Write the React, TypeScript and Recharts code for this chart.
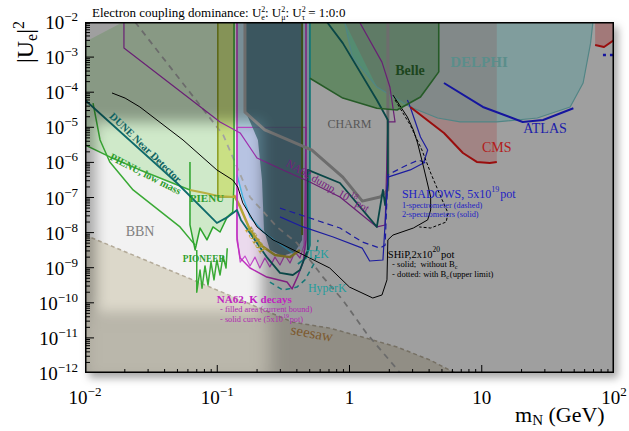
import React from 'react';
import { ComposedChart, Scatter, XAxis, YAxis } from 'recharts';

type Pt = [number, number];

const F = '"Liberation Serif","Times New Roman",serif';

// ---------- axes ----------
const xMajorTicks = [0.01, 0.1, 1, 10, 100];
const xMajorLabels: [string, string][] = [['10', '\u22122'], ['10', '\u22121'], ['1', ''], ['10', ''], ['10', '2']];
const yMajorTicks = [1e-12, 1e-11, 1e-10, 1e-9, 1e-8, 1e-7, 1e-6, 1e-5, 1e-4, 1e-3, 1e-2];
const yMajorLabels = ['\u221212', '\u221211', '\u221210', '\u22129', '\u22128', '\u22127', '\u22126', '\u22125', '\u22124', '\u22123', '\u22122'];
const minorSteps = [2, 3, 4, 5, 6, 7, 8, 9];

const plotCorners: Pt[] = [[0.01, 1e-2], [100, 1e-2], [100, 1e-12], [0.01, 1e-12]];
const lightZone: Pt[] = [[0.0119, 1.42e-5], [0.218, 4.5e-11]];
const dimZone: Pt[] = [[0.0095, 5.5e-11], [0.25, 5e-13]];

// ---------- regions / curves (m_N [GeV], |U_e|^2) ----------
const seesawBound: Pt[] = [[0.01, 8.5e-9], [0.0741, 3.7e-10], [0.373, 2.8e-11], [0.709, 1.9e-11], [1.25, 1.06e-11], [2.29, 5.5e-12], [4.11, 2.3e-12], [6.28, 1e-12]];
const greyDashed: Pt[] = [[0.0239, 1e-2], [0.111, 6.0e-6], [0.177, 1.03e-7], [0.283, 1.45e-8], [0.40, 5.1e-9], [0.63, 5.4e-10], [0.89, 1.2e-10], [1.34, 1.38e-11], [2.42, 1e-12]];

const pienuRegion: Pt[] = [[0.01, 2.7e-3], [0.0194, 1e-2], [0.134, 1e-2], [0.134, 2.59e-7], [0.131, 3.86e-8], [0.119, 2.8e-8], [0.105, 1.04e-8], [0.0929, 1.45e-8], [0.0836, 6.2e-9], [0.0741, 1.35e-8], [0.068, 3.2e-9], [0.0622, 1.65e-8], [0.0622, 1.64e-7], [0.0439, 2.77e-7], [0.026, 6.1e-7], [0.0154, 1.43e-6], [0.01, 3.13e-6]];
const pienuLowMass: Pt[] = [[0.01, 3.13e-6], [0.0154, 1.43e-6], [0.026, 6.1e-7], [0.0439, 2.77e-7], [0.0622, 1.64e-7]];
const pienuEdge: Pt[] = [[0.0622, 1.03e-6], [0.0622, 1.65e-8], [0.068, 3.2e-9], [0.0741, 1.35e-8], [0.0836, 6.2e-9], [0.0929, 1.45e-8], [0.105, 1.04e-8], [0.119, 2.8e-8], [0.131, 3.86e-8], [0.134, 2.59e-7], [0.134, 1e-2]];
const pienuSteep: Pt[] = [[0.0115, 4.9e-5], [0.013, 4.35e-6], [0.0154, 1.03e-6], [0.0231, 1.64e-7], [0.0523, 1.45e-8], [0.068, 4.4e-9]];
const pioneer: Pt[] = [[0.070, 3.2e-9], [0.070, 2.0e-10], [0.0741, 8.6e-10], [0.0767, 2.6e-10], [0.0808, 1.12e-9], [0.0851, 3.2e-10], [0.0897, 1.45e-9], [0.0945, 4.5e-10], [0.0993, 1.66e-9], [0.105, 6.2e-10], [0.1105, 2.15e-9], [0.1165, 9.8e-10], [0.119, 3.6e-9]];
const pienuOlive: Pt[] = [[0.0622, 1.64e-7], [0.0808, 1.34e-7], [0.101, 1.1e-7], [0.134, 1.03e-7]];

const oliveBand: Pt[] = [[0.101, 1e-2], [0.134, 1e-2], [0.134, 1.03e-7], [0.101, 1.03e-7]];
const oliveBandEdge: Pt[] = [[0.101, 1e-2], [0.101, 1.03e-7], [0.134, 1.03e-7]];

const lightBlueRegion: Pt[] = [[0.141, 1e-2], [0.502, 1e-2], [0.502, 3.2e-9], [0.469, 3.2e-9], [0.373, 2.6e-9], [0.283, 5.4e-9], [0.222, 1.04e-8], [0.177, 2.8e-8], [0.156, 1.03e-7], [0.141, 4.4e-7]];
const cyanCurve: Pt[] = [[0.141, 4.4e-7], [0.156, 1.03e-7], [0.177, 2.8e-8], [0.222, 1.04e-8], [0.283, 5.4e-9], [0.373, 2.6e-9]];
const slateRegion: Pt[] = [[0.162, 1e-2], [0.438, 1e-2], [0.438, 6.2e-9], [0.387, 2.8e-9], [0.309, 2.15e-9], [0.25, 3.2e-9], [0.2257, 1.19e-8], [0.218, 3.15e-7], [0.203, 4.35e-6], [0.162, 3.1e-5]];
const na62KBound: Pt[] = [[0.141, 1e-5], [0.141, 8.5e-9], [0.149, 1.45e-9], [0.162, 2.15e-9], [0.177, 1.12e-9], [0.193, 2.0e-9], [0.21, 9.8e-10], [0.229, 1.89e-9], [0.25, 1.05e-9], [0.273, 2.0e-9], [0.298, 1.19e-9], [0.325, 2.3e-9], [0.355, 1.36e-9], [0.387, 2.8e-9], [0.422, 1.89e-9], [0.454, 4.4e-9], [0.469, 1e-5]];
const na62KFuture: Pt[] = [[0.141, 1e-2], [0.141, 6.2e-9], [0.149, 1.89e-9], [0.177, 9.8e-10], [0.237, 5.4e-10], [0.337, 3.9e-10], [0.368, 2.5e-10], [0.407, 5.8e-10], [0.446, 1.45e-9], [0.469, 6.2e-9], [0.469, 1e-2]];
const t2k: Pt[] = [[0.502, 1e-2], [0.502, 4.4e-9], [0.469, 1.89e-9], [0.407, 1.28e-9]];
const hyperK: Pt[] = [[0.25, 3.9e-10], [0.314, 2.3e-10], [0.40, 2.8e-10], [0.461, 4.5e-10], [0.548, 1.45e-9], [0.578, 6.2e-9]];
const ps191: Pt[] = [[0.134, 1.18e-7], [0.149, 5.4e-8], [0.177, 1.19e-8], [0.218, 4.15e-9], [0.273, 2.3e-9], [0.355, 2.0e-9], [0.422, 3.2e-9]];
const darkOliveEdge: Pt[] = [[0.438, 1e-2], [0.438, 8.5e-9]];

const charm: Pt[] = [[0.162, 1e-2], [0.162, 2.7e-5], [0.229, 8.4e-6], [0.52, 2.25e-6], [0.89, 3.8e-7], [1.25, 7.9e-8], [1.70, 1.03e-7], [1.95, 1.64e-7], [1.95, 1e-2]];
const na62Dump: Pt[] = [[0.0197, 1e-2], [0.0197, 1.82e-3], [0.105, 1.42e-5], [0.149, 6.9e-6], [0.2, 1.33e-6], [0.314, 6.1e-7], [0.502, 2.77e-7], [0.847, 1.03e-7], [1.61, 1.45e-8], [1.86, 1.65e-8], [1.95, 1.42e-5], [2.21, 1.42e-5], [2.02, 1.41e-4], [1.76, 7.2e-4], [1.19, 1e-2]];
const duneND: Pt[] = [[0.01, 6.0e-5], [0.0496, 2.59e-7], [0.0993, 1.88e-8], [0.1206, 2.8e-8], [0.141, 4.4e-8], [0.151, 2.3e-8], [0.237, 2.0e-9], [0.298, 7.1e-10], [0.373, 6.2e-10], [0.422, 8.6e-10], [0.484, 3.2e-9], [0.484, 6.1e-7], [0.847, 2.59e-7], [1.61, 1.45e-8], [1.79, 1.64e-7], [1.86, 6.1e-8], [1.95, 2.27e-7], [1.95, 1.61e-5], [1.61, 6.0e-5], [0.89, 2.5e-3], [0.675, 1e-2]];
const shipSolid: Pt[] = [[0.016, 9.5e-5], [0.0201, 6.8e-5], [0.026, 3.8e-5], [0.0551, 4.35e-6], [0.0993, 6.1e-7], [0.131, 3.15e-7], [0.143, 1.99e-7], [0.156, 7.0e-8], [0.2, 1.45e-8], [0.264, 6.2e-9], [0.422, 2.6e-9], [0.709, 9.8e-10], [1.0, 2.8e-10], [1.5, 1.37e-10], [1.76, 1.67e-10], [1.92, 4.5e-10], [1.95, 6.2e-9], [2.13, 8.5e-9], [3.04, 1.35e-8], [3.90, 2.3e-8], [4.11, 4.4e-8], [4.11, 1.03e-7], [3.63, 7.4e-7], [3.27, 3.57e-6], [3.04, 8.4e-6], [2.74, 1.96e-5], [2.13, 8.3e-5]];
const shipDotted: Pt[] = [[2.21, 6.0e-5], [2.88, 1.16e-5], [3.53, 2.25e-6], [4.11, 5.0e-7], [4.91, 1.03e-7], [5.56, 3.6e-8], [5.38, 2.0e-8], [4.11, 1.35e-8], [3.37, 1.45e-8]];
const shadowsSolid: Pt[] = [[0.298, 2.8e-8], [0.446, 1.45e-8], [0.753, 7.5e-9], [1.25, 3.6e-9], [1.42, 1.55e-9], [1.79, 1.66e-9], [1.95, 3.8e-7], [2.88, 6.1e-7], [3.63, 9.6e-7], [3.90, 2.25e-6], [3.44, 5.3e-6], [2.88, 3.8e-5], [2.74, 6.0e-5]];
const shadowsDashed: Pt[] = [[0.298, 5.0e-8], [0.502, 2.6e-8], [0.847, 1.35e-8], [1.25, 5.4e-9], [1.70, 3.6e-9], [1.86, 4.4e-9], [1.95, 4.4e-7], [2.63, 7.9e-7], [3.33, 1.17e-6], [3.76, 9.6e-7]];

const belle: Pt[] = [[0.502, 1e-2], [0.502, 2.5e-4], [0.89, 6.8e-5], [1.61, 3.5e-5], [2.29, 3.1e-5], [3.44, 7.3e-5], [4.11, 1.83e-4], [4.73, 3.8e-4], [4.73, 1e-2]];
const delphi: Pt[] = [[0.92, 1e-2], [1.05, 1.0e-3], [1.61, 1.41e-4], [2.88, 3.8e-5], [4.64, 1.84e-5], [6.85, 1.42e-5], [13.0, 1.42e-5], [26.3, 1.84e-5], [46.6, 3.8e-5], [58.4, 1.83e-4], [66.5, 2.5e-3], [69.3, 1e-2]];
const cmsRegion: Pt[] = [[0.92, 1e-2], [1.61, 1.41e-4], [2.88, 3.8e-5], [5.18, 6.9e-6], [7.21, 1.85e-6], [9.17, 1.03e-6], [11.5, 9.6e-7], [13.0, 1.03e-6], [13.0, 1e-2]];
const cmsEdge: Pt[] = [[2.88, 3.8e-5], [5.18, 6.9e-6], [7.21, 1.85e-6], [9.17, 1.03e-6], [11.5, 9.6e-7], [13.0, 1.03e-6]];
const cmsHigh: Pt[] = [[72, 1e-2], [72, 2.2e-3], [84, 1.94e-3], [100, 3.07e-3], [100, 1e-2]];
const cmsHighEdge: Pt[] = [[72, 2.2e-3], [84, 1.94e-3], [100, 3.07e-3]];
const atlas: Pt[] = [[5.18, 1.83e-4], [10.2, 3.8e-5], [20.4, 1.42e-5], [29.1, 1.61e-5], [49.3, 3.5e-5]];
const atlasHigh: Pt[] = [[82.5, 1.15e-3], [100, 1.15e-3]];

// label anchors (data coordinates)
const labelAnchors: { id: string; x: number; y: number }[] = [
  { id: 'dune', x: 0.0275, y: 2.25e-6 },
  { id: 'pienuLow', x: 0.0279, y: 3.8e-7 },
  { id: 'pienu', x: 0.0836, y: 7.4e-8 },
  { id: 'pioneer', x: 0.0794, y: 1.45e-9 },
  { id: 'bbn', x: 0.0261, y: 8.0e-9 },
  { id: 'na62dump', x: 0.664, y: 1.75e-7 },
  { id: 'charm', x: 1.0, y: 9.5e-6 },
  { id: 'belle', x: 2.87, y: 3.1e-4 },
  { id: 'delphi', x: 9.53, y: 5.2e-4 },
  { id: 'atlas', x: 30.1, y: 6.9e-6 },
  { id: 'cms', x: 13.0, y: 1.98e-6 },
  { id: 'shadows', x: 2.49, y: 9.7e-8 },
  { id: 'spec1', x: 2.49, y: 5.0e-8 },
  { id: 'spec2', x: 2.49, y: 2.85e-8 },
  { id: 'ship', x: 1.95, y: 1.95e-9 },
  { id: 'shipSolid', x: 2.10, y: 1.05e-9 },
  { id: 'shipDotted', x: 2.10, y: 5.5e-10 },
  { id: 't2k', x: 0.477, y: 1.89e-9 },
  { id: 'hyperk', x: 0.485, y: 2.0e-10 },
  { id: 'na62k', x: 0.0993, y: 9.9e-11 },
  { id: 'na62kFilled', x: 0.105, y: 5.3e-11 },
  { id: 'na62kSolid', x: 0.105, y: 2.75e-11 },
  { id: 'seesaw', x: 0.512, y: 9.9e-12 },
  { id: 'ps191', x: 0.186, y: 5.4e-9 },
];

// ---------- helpers ----------
const toXY = (a: Pt[]) => a.map(([x, y]) => ({ x, y }));
const noShape = () => <g />;

type Sty = { fill?: string; fillOpacity?: number; stroke?: string; strokeWidth?: number; dash?: string; closed?: boolean };

const pathOf = (opts: Sty) => (p: any) => {
  const pts = (p && p.points) || [];
  if (!pts.length) return <g />;
  const d = pts.map((q: any, i: number) => `${i ? 'L' : 'M'}${q.x},${q.y}`).join('') + (opts.closed ? 'Z' : '');
  return (
    <path
      d={d}
      fill={opts.fill || 'none'}
      fillOpacity={opts.fillOpacity}
      stroke={opts.stroke || 'none'}
      strokeWidth={opts.strokeWidth}
      strokeDasharray={opts.dash}
      strokeLinejoin="round"
      strokeLinecap="butt"
    />
  );
};

let keyN = 0;
const series = (data: Pt[], opts: Sty) => (
  <Scatter key={`s${keyN++}`} data={toXY(data)} line={pathOf(opts)} shape={noShape} isAnimationActive={false} />
);

const shadeOverlay = (p: any) => {
  const pts = (p && p.points) || [];
  if (pts.length < 8) return <g />;
  const a = pts[0], b = pts[2], c = pts[4], d = pts[5], e = pts[6], f = pts[7];
  const w = b.x - a.x, h = b.y - a.y;
  return (
    <g>
      <defs>
        <filter id="softEdge" x="-30%" y="-30%" width="160%" height="160%">
          <feGaussianBlur stdDeviation="7" />
        </filter>
        <filter id="softEdge2" x="-30%" y="-60%" width="160%" height="220%">
          <feGaussianBlur stdDeviation="9" />
        </filter>
        <mask id="shadeMask" maskUnits="userSpaceOnUse" x={a.x - 20} y={a.y - 20} width={w + 40} height={h + 40}>
          <rect x={a.x} y={a.y} width={w} height={h} fill="#fff" />
          <rect x={c.x} y={c.y} width={d.x - c.x} height={d.y - c.y} fill="#000" filter="url(#softEdge)" />
          <rect x={e.x} y={e.y} width={f.x - e.x} height={f.y - e.y} fill="#000" fillOpacity={0.55} filter="url(#softEdge2)" />
        </mask>
      </defs>
      <rect x={a.x} y={a.y} width={w} height={h} fill="#000" fillOpacity={0.34} mask="url(#shadeMask)" />
    </g>
  );
};

const sup = (t: string, size: number, up = 6) => [
  <tspan key="a" dy={-up} fontSize={size}>{t}</tspan>,
  <tspan key="b" dy={up}>{'\u200A'}</tspan>,
];
const sub = (t: string, size: number, down = 3) => [
  <tspan key="c" dy={down} fontSize={size}>{t}</tspan>,
  <tspan key="d" dy={-down}>{'\u200A'}</tspan>,
];

const renderLabel = (p: any) => {
  const { cx, cy, payload } = p;
  const common = { fontFamily: F } as any;
  const rot = (deg: number) => `rotate(${deg} ${cx} ${cy})`;
  switch (payload.id) {
    case 'dune':
      return <text {...common} x={cx} y={cy} transform={rot(44)} textAnchor="middle" fill="#0e6262" fontWeight="bold" fontSize={10.5}>DUNE Near Detector</text>;
    case 'pienuLow':
      return <text {...common} x={cx} y={cy} transform={rot(27)} textAnchor="middle" fill="#2f9e2f" fontWeight="bold" fontSize={10.5}>PIENU, low mass</text>;
    case 'pienu':
      return <text {...common} x={cx} y={cy} textAnchor="middle" fill="#2f9e2f" fontWeight="bold" fontSize={11}>PIENU</text>;
    case 'pioneer':
      return <text {...common} x={cx} y={cy} textAnchor="middle" fill="#2f9e2f" fontWeight="bold" fontSize={9.3}>PIONEER</text>;
    case 'bbn':
      return <text {...common} x={cx} y={cy} textAnchor="middle" fill="#808080" fontSize={14}>BBN</text>;
    case 'na62dump':
      return <text {...common} x={cx} y={cy} transform={rot(30)} textAnchor="middle" fill="#762080" fontSize={11}>NA62 dump, 10{sup('18', 8)}pot</text>;
    case 'charm':
      return <text {...common} x={cx} y={cy} textAnchor="middle" fill="#575757" fontSize={12}>CHARM</text>;
    case 'belle':
      return <text {...common} x={cx} y={cy} textAnchor="middle" fill="#1d451d" fontWeight="bold" fontSize={14}>Belle</text>;
    case 'delphi':
      return <text {...common} x={cx} y={cy} textAnchor="middle" fill="#5b8e8b" fontWeight="bold" fontSize={15}>DELPHI</text>;
    case 'atlas':
      return <text {...common} x={cx} y={cy} textAnchor="middle" fill="#1c1caa" fontSize={14}>ATLAS</text>;
    case 'cms':
      return <text {...common} x={cx} y={cy} textAnchor="middle" fill="#b31b1b" fontSize={14}>CMS</text>;
    case 'shadows':
      return <text {...common} x={cx} y={cy} fill="#2222c4" fontSize={12}>SHADOWS, 5x10{sup('19', 8)}pot</text>;
    case 'spec1':
      return <text {...common} x={cx} y={cy} fill="#2222c4" fontSize={8.3}>1-spectrometer (dashed)</text>;
    case 'spec2':
      return <text {...common} x={cx} y={cy} fill="#2222c4" fontSize={8.3}>2-spectrometers (solid)</text>;
    case 'ship':
      return <text {...common} x={cx} y={cy} fill="#000" fontSize={10.5}>SHiP,2x10{sup('20', 7.5)}pot</text>;
    case 'shipSolid':
      return <text {...common} x={cx} y={cy} fill="#000" fontSize={8.6} xmlSpace="preserve">{'- solid;  without B'}{sub('c', 6.2, 2)}</text>;
    case 'shipDotted':
      return <text {...common} x={cx} y={cy} fill="#000" fontSize={8.6}>- dotted: with B{sub('c', 6.2, 2)}(upper limit)</text>;
    case 't2k':
      return <text {...common} x={cx} y={cy} fill="#1f9d9d" fontSize={12}>T2K</text>;
    case 'hyperk':
      return <text {...common} x={cx} y={cy} fill="#1f9d9d" fontSize={12}>HyperK</text>;
    case 'na62k':
      return <text {...common} x={cx} y={cy} fill="#c024c0" fontWeight="bold" fontSize={11}>NA62, K decays</text>;
    case 'na62kFilled':
      return <text {...common} x={cx} y={cy} fill="#b02ab0" fontSize={8.3}>- filled area (current bound)</text>;
    case 'na62kSolid':
      return <text {...common} x={cx} y={cy} fill="#b02ab0" fontSize={8.3}>- solid curve (5x10{sup('19', 6, 4)}pot)</text>;
    case 'seesaw':
      return <text {...common} x={cx} y={cy} transform={rot(10)} textAnchor="middle" fill="#7d5a2f" fontSize={15}>seesaw</text>;
    case 'ps191':
      return <text {...common} x={cx} y={cy} transform={rot(57)} textAnchor="middle" fill="#a89830" fontWeight="bold" fontSize={11}>PS191</text>;
    default:
      return <g />;
  }
};

const isMajor = (v: number) => Math.abs(Math.log10(v) - Math.round(Math.log10(v))) < 1e-9;
const xAllTicks: number[] = [];
[0.01, 0.1, 1, 10].forEach((d) => { xAllTicks.push(d); minorSteps.forEach((s) => xAllTicks.push(s * d)); });
xAllTicks.push(100);
const yAllTicks: number[] = [];
yMajorTicks.slice(0, -1).forEach((d) => { yAllTicks.push(d); minorSteps.forEach((s) => yAllTicks.push(s * d)); });
yAllTicks.push(1e-2);

const bottomTickData = xAllTicks.map((v) => ({ x: v, y: 1e-12, major: isMajor(v) }));
const leftTickData = yAllTicks.map((v) => ({ x: 0.01, y: v, major: isMajor(v) }));

const XTick = (props: any) => {
  const { x, y, payload } = props;
  const i = xMajorTicks.findIndex((t) => Math.abs(t - payload.value) / t < 1e-6);
  if (i < 0) return <g />;
  const [base, exp] = xMajorLabels[i];
  return (
    <text x={x} y={y + 31} textAnchor="middle" fontFamily={F} fontSize={19} fill="#000">
      {base}
      {exp ? <tspan dy={-8} fontSize={13}>{exp}</tspan> : null}
    </text>
  );
};
const YTick = (props: any) => {
  const { x, y, payload } = props;
  const i = yMajorTicks.findIndex((t) => Math.abs(t - payload.value) / t < 1e-6);
  if (i < 0) return <g />;
  return (
    <text x={x - 7} y={y + 7} textAnchor="end" fontFamily={F} fontSize={19} fill="#000">
      10<tspan dy={-8} fontSize={13}>{yMajorLabels[i]}</tspan>
    </text>
  );
};

export default function App() {
  keyN = 0;
  return (
    <div style={{ position: 'relative', width: 629, height: 431, background: '#fff', overflow: 'hidden' }}>
      <style>{'html,body{margin:0;padding:0;overflow:hidden;background:#fff}'}</style>
      <div style={{ position: 'absolute', left: 85, top: 22, width: 529, height: 351, boxShadow: '4px 5px 8px rgba(0,0,0,0.35)' }} />
      <div style={{ position: 'absolute', left: 0, top: 0 }}>
        <ComposedChart width={629} height={431} margin={{ top: 22, right: 15, bottom: 18, left: 15 }}>
          <XAxis type="number" dataKey="x" scale="log" domain={[0.01, 100]} allowDataOverflow ticks={xMajorTicks} interval={0} tick={<XTick />} tickLine={false} axisLine={false} tickSize={0} tickMargin={0} height={40} />
          <YAxis type="number" dataKey="y" scale="log" domain={[1e-12, 1e-2]} allowDataOverflow ticks={yMajorTicks} interval={0} tick={<YTick />} tickLine={false} axisLine={false} tickSize={0} tickMargin={0} width={70} />

          {/* fills */}
          {series(plotCorners, { fill: '#f2f2f2', closed: true })}
          {series([...seesawBound, [0.01, 1e-12]], { fill: '#dcd8ca', closed: true })}
          {series(pienuRegion, { fill: '#cfe9c9', closed: true })}
          {series(oliveBand, { fill: '#c8dc60', fillOpacity: 0.65, closed: true })}
          {series(lightBlueRegion, { fill: '#9ccde0', fillOpacity: 0.7, closed: true })}
          {series(na62KBound, { fill: '#c050d0', fillOpacity: 0.15, stroke: '#c84ccf', strokeWidth: 1.2, closed: true })}
          {series(slateRegion, { fill: '#46707c', fillOpacity: 0.82, closed: true })}
          {series(belle, { fill: '#5cb85e', fillOpacity: 0.6, closed: true })}
          {series(cmsRegion, { fill: '#ff3333', fillOpacity: 0.22, closed: true })}
          {series(cmsHigh, { fill: '#ff3333', fillOpacity: 0.3, closed: true })}
          {series(delphi, { fill: '#38e8e8', fillOpacity: 0.25, stroke: '#7ccaca', strokeWidth: 1.2, closed: true })}

          {/* curves */}
          {series(seesawBound, { stroke: '#b3aa98', strokeWidth: 1.5, dash: '4 3' })}
          {series(greyDashed, { stroke: '#a3a3a3', strokeWidth: 1.8, dash: '6 5' })}
          {series(pienuLowMass, { stroke: '#3aaa35', strokeWidth: 1.5 })}
          {series(pienuSteep, { stroke: '#3aaa35', strokeWidth: 1.5 })}
          {series(pienuEdge, { stroke: '#2ea42e', strokeWidth: 1.5 })}
          {series(pioneer, { stroke: '#3aaa35', strokeWidth: 1.5 })}
          {series(oliveBandEdge, { stroke: '#8a9a20', strokeWidth: 1.5 })}
          {series(pienuOlive, { stroke: '#b8b040', strokeWidth: 2 })}
          {series(ps191, { stroke: '#b5a535', strokeWidth: 2.5 })}
          {series(cyanCurve, { stroke: '#45b5e0', strokeWidth: 1.5 })}
          {series(t2k, { stroke: '#22b5b5', strokeWidth: 1.8 })}
          {series(hyperK, { stroke: '#22b5b5', strokeWidth: 1.5, dash: '5 4' })}
          {series(darkOliveEdge, { stroke: '#5a7a2a', strokeWidth: 2 })}
          {series(na62KFuture, { stroke: '#c030c0', strokeWidth: 1.5 })}
          {series(charm, { stroke: '#a6a6a6', strokeWidth: 3 })}
          {series(na62Dump, { stroke: '#a030b0', strokeWidth: 1.2 })}
          {series(duneND, { stroke: '#0f6b6b', strokeWidth: 1.8 })}
          {series(shadowsDashed, { stroke: '#2b2bf0', strokeWidth: 1.2, dash: '6 4' })}
          {series(shadowsSolid, { stroke: '#2b2bf0', strokeWidth: 1.2 })}
          {series(shipDotted, { stroke: '#000', strokeWidth: 1, dash: '3 2' })}
          {series(shipSolid, { stroke: '#000', strokeWidth: 1 })}
          {series(belle.slice(1), { stroke: '#3a8a3c', strokeWidth: 1.6 })}
          {series(cmsEdge, { stroke: '#e81515', strokeWidth: 2 })}
          {series(cmsHighEdge, { stroke: '#e81515', strokeWidth: 2 })}
          {series(atlas, { stroke: '#2020f0', strokeWidth: 2 })}
          {series(atlasHigh, { stroke: '#2020f0', strokeWidth: 2.5, dash: '3 4' })}

          {/* shading outside the bright window */}
          <Scatter key="shade" data={toXY([plotCorners[0], plotCorners[1], plotCorners[2], plotCorners[3], lightZone[0], lightZone[1], dimZone[0], dimZone[1]])} line={shadeOverlay} shape={noShape} isAnimationActive={false} />

          {/* labels */}
          <Scatter key="labels" data={labelAnchors} shape={renderLabel} isAnimationActive={false} />

          {/* ticks and frame */}
          <Scatter key="bt" data={bottomTickData} shape={(p: any) => <line x1={p.cx} x2={p.cx} y1={p.cy} y2={p.cy - (p.payload.major ? 8 : 4)} stroke="#000" strokeWidth={1} />} isAnimationActive={false} />
          <Scatter key="lt" data={leftTickData} shape={(p: any) => <line x1={p.cx} x2={p.cx + (p.payload.major ? 9 : 5)} y1={p.cy} y2={p.cy} stroke="#000" strokeWidth={1} />} isAnimationActive={false} />
          {series(plotCorners, { stroke: '#000', strokeWidth: 3, closed: true })}

          <text x={92} y={17} fontFamily={F} fontSize={13} fill="#000">
            Electron coupling dominance: U<tspan dy={-5} fontSize={8}>2</tspan><tspan dx={-4} dy={8} fontSize={8}>e</tspan><tspan dy={-3}>: U</tspan><tspan dy={-5} fontSize={8}>2</tspan><tspan dx={-4} dy={8} fontSize={8}>μ</tspan><tspan dy={-3}>: U</tspan><tspan dy={-5} fontSize={8}>2</tspan><tspan dx={-4} dy={8} fontSize={8}>τ</tspan><tspan dy={-3}> = 1:0:0</tspan>
          </text>
          <text x={515} y={422} fontFamily={F} fontSize={22} fill="#000">
            m<tspan dy={3} fontSize={15}>N</tspan><tspan dy={-3}> (GeV)</tspan>
          </text>
          <text transform="translate(33,42) rotate(-90)" textAnchor="middle" fontFamily={F} fontSize={24} fill="#000">
            |U<tspan dy={4} fontSize={16}>e</tspan><tspan dy={-4}>|</tspan><tspan dy={-9} fontSize={16}>2</tspan>
          </text>
        </ComposedChart>
      </div>
    </div>
  );
}
